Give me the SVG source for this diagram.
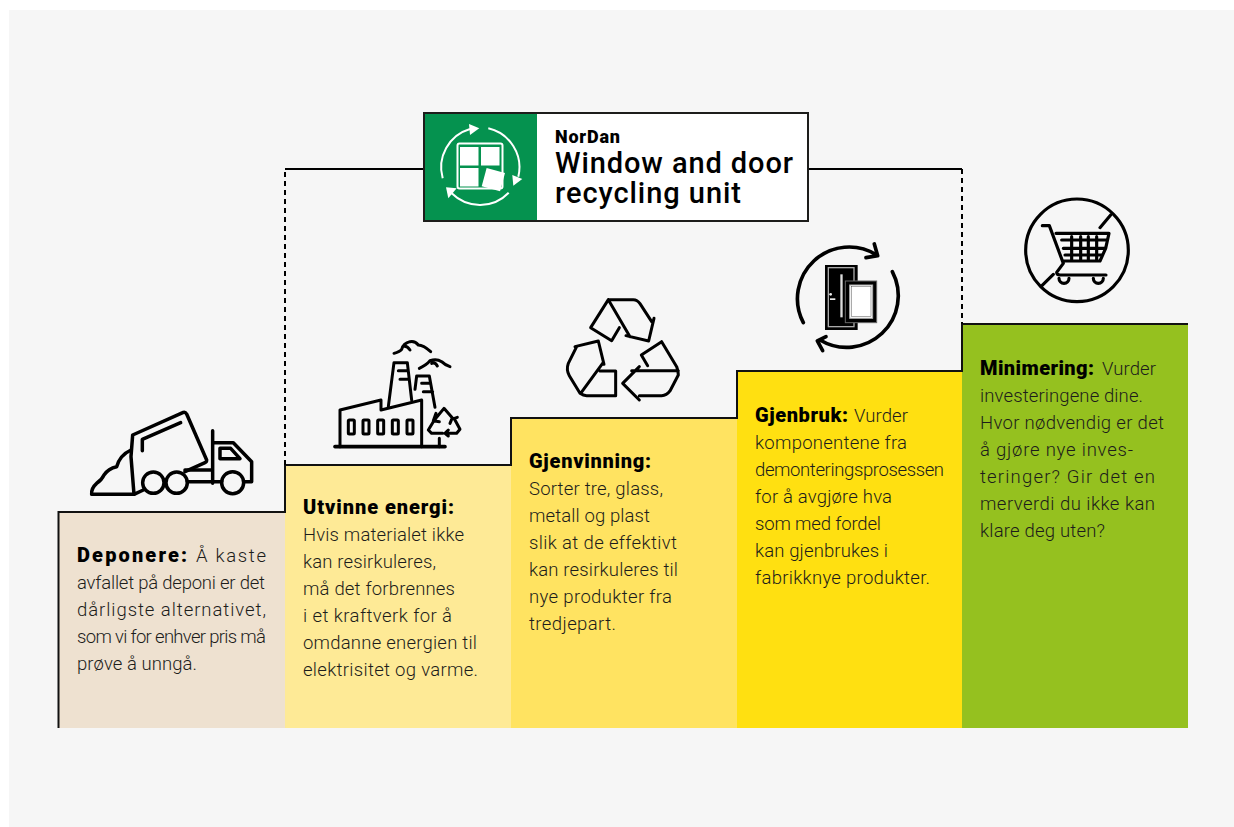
<svg xmlns="http://www.w3.org/2000/svg" width="1234" height="827" viewBox="0 0 1234 827">
<style>
.t{font-family:"Roboto","Liberation Sans",sans-serif;font-size:18.5px;font-weight:300;fill:#1d1d1b}
.b{font-weight:900;font-size:20px;fill:#000}
.i{fill:none;stroke:#000;stroke-linecap:round;stroke-linejoin:round}
.w{fill:none;stroke:#fff;stroke-width:2}
.f{fill:#fff}
.h{font-family:"Roboto","Liberation Sans",sans-serif;fill:#000}
</style>
<rect width="1234" height="827" fill="#fff"/>
<rect x="9" y="10" width="1225" height="817" fill="#f6f6f6"/>
<g id="steps">
<rect id="step1" x="58" y="512" width="227" height="216" fill="#eee1d0"/>
<rect id="step2" x="285" y="465" width="226" height="263" fill="#feea96"/>
<rect id="step3" x="511" y="418" width="226" height="310" fill="#ffe361"/>
<rect id="step4" x="737" y="371" width="225" height="357" fill="#ffe011"/>
<rect id="step5" x="962" y="324" width="226" height="404" fill="#95c11f"/>
</g>
<g id="connectors" fill="none" stroke="#000" stroke-width="2">
<path d="M58.500 728V512H285V465H511V418H737V371H962V324H1188" stroke="#111"/>
<path d="M285 465V169" stroke-dasharray="5 4"/>
<path d="M285 169H424M807 169H962"/>
<path d="M962 169V324" stroke-dasharray="5 4"/>
</g>
<g id="logo-node">
<rect x="424" y="113" width="384" height="108" fill="#fff" stroke="#1d1d1b" stroke-width="2"/>
<rect x="425" y="114" width="112" height="106" fill="#05924f"/>
<g id="logo-icon">
<path class="w" d="M442.700 178.300A40 40 0 0 1 470 129"/>
<polygon class="f" points="469,124 479.300,128.300 470,135"/>
<path class="w" d="M488.300 128.300A40 40 0 0 1 518.300 176.700"/>
<polygon class="f" points="512.300,175 522.300,179 513.300,185.700"/>
<path class="w" d="M508.700 192.700A40 40 0 0 1 451.700 193.300"/>
<polygon class="f" points="446,187.300 456.700,188.300 448.300,198.300"/>
<rect x="457.500" y="143.500" width="45" height="45" rx="2" class="w"/>
<rect x="460" y="147" width="18.500" height="18.500" class="f"/>
<rect x="481" y="147" width="18.500" height="18.500" class="f"/>
<rect x="460" y="168" width="18.500" height="18.500" class="f"/>
<rect x="484" y="170" width="19" height="19" class="f" transform="rotate(15 493 179)"/>
</g>
<text class="h" x="555" y="143" font-size="18" font-weight="900" textLength="65">NorDan</text>
<text class="h" x="555" y="173" font-size="29" font-weight="500" textLength="238">Window and door</text>
<text class="h" x="555" y="203" font-size="29" font-weight="500" textLength="186">recycling unit</text>
</g>
<g id="deponere">
<g transform="translate(70 400) scale(.3333)" class="i" stroke-width="10.500">
<path d="M188 105L340 37Q346 35 350 42L410 180Q410 186 405 188L345 215M188 105L183 170L192 283L220 270M217 152V118L332 68"/>
<path d="M192 283H65Q63 265 80 250Q95 240 102 225Q115 205 140 200Q150 165 183 150"/>
<circle cx="250" cy="248" r="32"/><circle cx="320" cy="248" r="32"/><circle cx="488" cy="248" r="33"/>
<path d="M352 245H455M345 210H425M428 92V250M428 128H490L545 185V245H522M450 145H482L510 176H450Z"/>
</g>
<text class="t" y="562"><tspan class="b" x="77" textLength="110">Deponere:</tspan><tspan x="196" textLength="70">Å kaste</tspan></text>
<text class="t" x="77" y="589" textLength="188">avfallet på deponi er det</text>
<text class="t" x="77" y="616" textLength="189">dårligste alternativet,</text>
<text class="t" x="77" y="643" textLength="189">som vi for enhver pris må</text>
<text class="t" x="77" y="670" textLength="120">prøve å unngå.</text>
</g>
<g id="utvinne">
<g transform="translate(320 330) scale(.3333)" class="i" stroke-width="9">
<path stroke-width="11" d="M45 350H375"/>
<path d="M60 350V240L183 210V240L305 210V350"/>
<rect x="85" y="270" width="18" height="42" rx="3"/><rect x="129" y="270" width="18" height="42" rx="3"/><rect x="173" y="270" width="18" height="42" rx="3"/><rect x="217" y="270" width="18" height="42" rx="3"/><rect x="261" y="270" width="18" height="42" rx="3"/>
<path d="M205 230L222 98H262L275 210M235 122H262M240 148H268"/>
<path d="M285 178L290 138H328L345 232M305 160H332M310 185H338"/>
<path d="M222 70Q240 65 245 58Q250 40 270 35Q285 32 295 45Q310 45 332 65M248 50Q260 45 270 60"/>
<path d="M298 115Q320 105 330 92Q350 85 365 95Q375 105 390 110M335 100Q345 95 352 108"/>
<path d="M345 268L372 235L398 265M348 250L340 272L358 275M340 275L325 300L335 310H368M378 310H410L420 298L405 270M385 300L375 310L385 318M412 262L395 268L390 280M358 325V350"/>
</g>
<text class="t b" x="303" y="514" textLength="151">Utvinne energi:</text>
<text class="t" x="303" y="541" textLength="161">Hvis materialet ikke</text>
<text class="t" x="303" y="568" textLength="133">kan resirkuleres,</text>
<text class="t" x="303" y="595" textLength="152">må det forbrennes</text>
<text class="t" x="303" y="622" textLength="149">i et kraftverk for å</text>
<text class="t" x="303" y="649" textLength="174">omdanne energien til</text>
<text class="t" x="303" y="676" textLength="175">elektrisitet og varme.</text>
</g>
<g id="gjenvinning">
<g transform="translate(550 285) scale(.3333)" class="i" stroke-width="9">
<path d="M175 44L122 128L185 167L208 128M175 44H250Q262 44 270 56L305 110M312 100L296 168L228 152M175 44L240 155"/>
<path d="M92 325L160 232M75 185L145 168L162 238M80 185L55 235Q48 255 58 272L90 325Q100 332 110 332H197V258H150"/>
<path d="M385 257H245M268 245L218 295L268 345M268 332H335Q350 332 360 318L385 270Q385 258 380 245L335 170L274 210L293 242"/>
</g>
<text class="t b" x="529" y="468" textLength="122">Gjenvinning:</text>
<text class="t" x="529" y="495" textLength="134">Sorter tre, glass,</text>
<text class="t" x="529" y="522" textLength="121">metall og plast</text>
<text class="t" x="529" y="549" textLength="148">slik at de effektivt</text>
<text class="t" x="529" y="576" textLength="149">kan resirkuleres til</text>
<text class="t" x="529" y="603" textLength="143">nye produkter fra</text>
<text class="t" x="529" y="630" textLength="87">tredjepart.</text>
</g>
<g id="gjenbruk">
<g transform="translate(780 230) scale(.3333)">
<g class="i" stroke-width="11">
<path d="M70 278A155 155 0 0 1 290 75M283 42L293 77L258 83"/>
<path d="M337 125A155 155 0 0 1 120 330M138 320L112 333L128 362"/>
</g>
<rect x="135" y="105" width="98" height="195" fill="#000"/>
<rect x="145" y="113" width="77" height="177" fill="none" stroke="#aaa" stroke-width="4"/>
<rect x="181" y="133" width="7" height="129" fill="#ddd"/>
<circle cx="152" cy="193" r="4" fill="#eee"/><rect x="150" y="205" width="16" height="5" fill="#eee"/>
<rect x="196" y="153" width="94" height="125" fill="#000" stroke="#666" stroke-width="3"/>
<rect x="209" y="165" width="69" height="100" fill="#fff" stroke="#aaa" stroke-width="3"/>
<rect x="215" y="170" width="58" height="90" fill="#fff" stroke="#000" stroke-width="1"/>
</g>
<text class="t" y="422"><tspan class="b" x="755" textLength="93">Gjenbruk:</tspan><tspan x="854" textLength="54">Vurder</tspan></text>
<text class="t" x="755" y="449" textLength="152">komponentene fra</text>
<text class="t" x="755" y="476" textLength="189">demonteringsprosessen</text>
<text class="t" x="755" y="503" textLength="137">for å avgjøre hva</text>
<text class="t" x="755" y="530" textLength="126">som med fordel</text>
<text class="t" x="755" y="557" textLength="133">kan gjenbrukes i</text>
<text class="t" x="755" y="584" textLength="175">fabrikknye produkter.</text>
</g>
<g id="minimering">
<g transform="translate(1010 185) scale(.3333)" class="i" stroke-width="9.500">
<circle cx="201" cy="196" r="154"/>
<path d="M302 90L270 128M130 268L95 303"/>
<path d="M97 122H118L160 235L140 262Q140 270 150 270H288M138 145H297L287 190L270 228H160"/>
<path d="M155 165H290M160 190H285M165 210H275M185 155V225M212 155V225M235 155V225M260 155V225"/>
<path d="M147 280A15 15 0 0 0 177 280M250 280A15 15 0 0 0 280 280"/>
</g>
<text class="t" y="375"><tspan class="b" x="980" textLength="114">Minimering:</tspan><tspan x="1102" textLength="54">Vurder</tspan></text>
<text class="t" x="980" y="402" textLength="163">investeringene dine.</text>
<text class="t" x="980" y="429" textLength="184">Hvor nødvendig er det</text>
<text class="t" x="980" y="456" textLength="153">å gjøre nye inves-</text>
<text class="t" x="980" y="483" textLength="175">teringer? Gir det en</text>
<text class="t" x="980" y="510" textLength="175">merverdi du ikke kan</text>
<text class="t" x="980" y="537" textLength="125">klare deg uten?</text>
</g>
</svg>
